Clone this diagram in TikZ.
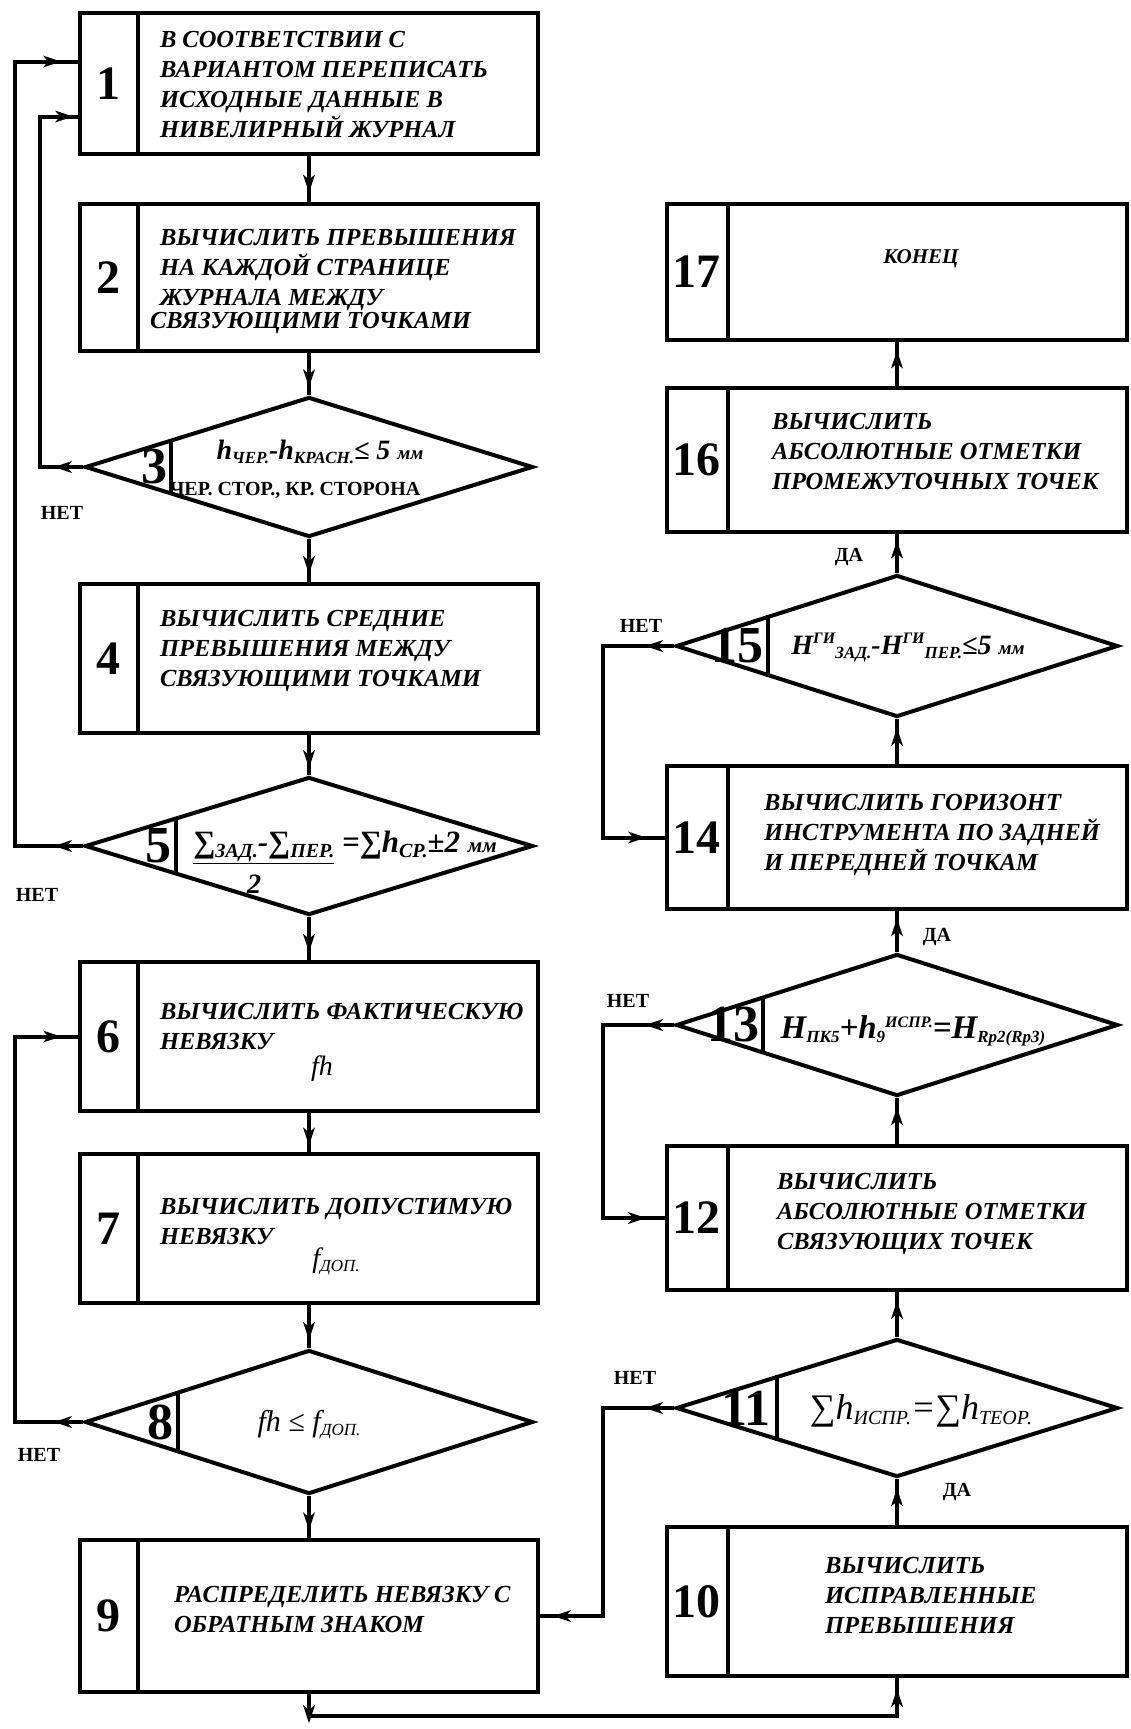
\documentclass[tikz,border=0pt]{standalone}
\usepackage{fontspec}
\setmainfont{Liberation Serif}
\usetikzlibrary{shapes.geometric,arrows.meta,decorations.markings,calc}
\newcommand\lsub[1]{\raisebox{-4pt}{\fontsize{17}{17}\selectfont #1}}
\newcommand\lsubb[1]{\raisebox{-5pt}{\fontsize{20}{20}\selectfont #1}}
\newcommand\hsup[1]{\raisebox{11pt}{\fontsize{16}{16}\selectfont #1}}
\newcommand\blobtip{\fill (9pt,0pt) -- (-9pt,6pt) -- (-4pt,0pt) -- (-9pt,-6pt) -- cycle;}
\begin{document}
\begin{tikzpicture}[x=1pt,y=-1pt,line width=4pt,
  lblk/.style={draw,inner sep=0pt,minimum width=458pt},
  rblk/.style={draw,inner sep=0pt,minimum width=460pt},
  dia/.style={draw,shape=diamond,inner sep=0pt},
  txt/.style={anchor=west,align=left,inner sep=0pt,font=\fontsize{24.5}{30}\selectfont\bfseries\itshape},
  num/.style={inner sep=0pt,font=\fontsize{48}{48}\selectfont\bfseries},
  dnum/.style={inner sep=0pt,anchor=east,font=\fontsize{52}{52}\selectfont\bfseries},
  lbl/.style={inner sep=0pt,font=\fontsize{20}{20}\selectfont\bfseries},
  frm/.style={inner sep=0pt,font=\fontsize{28}{28}\selectfont\bfseries\itshape},
  frmr/.style={inner sep=0pt,font=\fontsize{28}{28}\selectfont\itshape},
  midarrow/.style={postaction={decorate},decoration={markings,mark=at position #1 with {\blobtip}}},
  loopmarks/.style 2 args={postaction={decorate},decoration={markings,
     mark=at position #1 with {\blobtip},
     mark=at position #2 with {\blobtip}}}]
\fill[white] (0,0) rectangle (1131,1729);
\useasboundingbox (0,0) rectangle (1131,1729);

% left column
\node[lblk,minimum height=141pt] (b1) at (309,83.5) {};
\node[lblk,minimum height=147pt] (b2) at (309,277.5) {};
\node[dia,minimum width=448pt,minimum height=140pt] (d3) at (309,467) {};
\node[lblk,minimum height=149pt] (b4) at (309,658.5) {};
\node[dia,minimum width=448pt,minimum height=138pt] (d5) at (309,846) {};
\node[lblk,minimum height=149pt] (b6) at (309,1036.5) {};
\node[lblk,minimum height=149pt] (b7) at (309,1228.5) {};
\node[dia,minimum width=448pt,minimum height=144pt] (d8) at (309,1422) {};
\node[lblk,minimum height=152pt] (b9) at (309,1616) {};

% right column
\node[rblk,minimum height=136pt] (b17) at (897,272) {};
\node[rblk,minimum height=144pt] (b16) at (897,460) {};
\node[dia,minimum width=442pt,minimum height=142pt] (d15) at (897,646) {};
\node[rblk,minimum height=143pt] (b14) at (897,837.5) {};
\node[dia,minimum width=442pt,minimum height=142pt] (d13) at (897,1025) {};
\node[rblk,minimum height=144pt] (b12) at (897,1218) {};
\node[dia,minimum width=442pt,minimum height=138pt] (d11) at (897,1408) {};
\node[rblk,minimum height=149pt] (b10) at (897,1601.5) {};

% dividers in boxes
\foreach \b in {b1,b2,b4,b6,b7,b9}
  \draw ([xshift=60pt]\b.north west) -- ([xshift=60pt]\b.south west);
\foreach \b in {b10,b12,b14,b16,b17}
  \draw ([xshift=63pt]\b.north west) -- ([xshift=63pt]\b.south west);

% dividers in diamonds
\draw ($(d3.west)!0.39!(d3.north)$) -- ($(d3.west)!0.39!(d3.south)$);
\draw ($(d5.west)!0.41!(d5.north)$) -- ($(d5.west)!0.41!(d5.south)$);
\draw ($(d8.west)!0.42!(d8.north)$) -- ($(d8.west)!0.42!(d8.south)$);
\draw ($(d15.west)!0.42!(d15.north)$) -- ($(d15.west)!0.42!(d15.south)$);
\draw ($(d13.west)!0.40!(d13.north)$) -- ($(d13.west)!0.40!(d13.south)$);
\draw ($(d11.west)!0.46!(d11.north)$) -- ($(d11.west)!0.46!(d11.south)$);

% numbers
\node[num] (n1) at ($(b1.west)+(30,0)$) {1};
\node[num] (n2) at ($(b2.west)+(30,0)$) {2};
\node[num] (n4) at ($(b4.west)+(30,0)$) {4};
\node[num] (n6) at ($(b6.west)+(30,0)$) {6};
\node[num] (n7) at ($(b7.west)+(30,0)$) {7};
\node[num] (n9) at ($(b9.west)+(30,0)$) {9};
\node[num] (n10) at ($(b10.west)+(31,0)$) {10};
\node[num] (n12) at ($(b12.west)+(31,0)$) {12};
\node[num] (n14) at ($(b14.west)+(31,0)$) {14};
\node[num] (n16) at ($(b16.west)+(31,0)$) {16};
\node[num] (n17) at ($(b17.west)+(31,0)$) {17};
\node[dnum] (n3) at ($(d3.west)!0.195!(d3.east)+(-2,0)$) {3};
\node[dnum] (n5) at ($(d5.west)!0.205!(d5.east)+(-2,0)$) {5};
\node[dnum] (n8) at ($(d8.west)!0.21!(d8.east)+(-2,0)$) {8};
\node[dnum] (n15) at ($(d15.west)!0.21!(d15.east)+(-2,0)$) {15};
\node[dnum] (n13) at ($(d13.west)!0.20!(d13.east)+(-2,0)$) {13};
\node[dnum] (n11) at ($(d11.west)!0.23!(d11.east)+(-4,0)$) {11};

% box texts
\node[txt] (t1) at ($(b1.west)+(80,1.5)$) {В СООТВЕТСТВИИ С\\ВАРИАНТОМ ПЕРЕПИСАТЬ\\ИСХОДНЫЕ ДАННЫЕ В\\НИВЕЛИРНЫЙ ЖУРНАЛ};
\node[txt] (t2) at ($(b2.west)+(80,4)$) {ВЫЧИСЛИТЬ ПРЕВЫШЕНИЯ\\НА КАЖДОЙ СТРАНИЦЕ\\ЖУРНАЛА МЕЖДУ\\[-7pt]\hspace*{-10pt}СВЯЗУЮЩИМИ ТОЧКАМИ};
\node[txt] (t4) at ($(b4.west)+(80,-8)$) {ВЫЧИСЛИТЬ СРЕДНИЕ\\ПРЕВЫШЕНИЯ МЕЖДУ\\СВЯЗУЮЩИМИ ТОЧКАМИ};
\node[txt] (t6) at ($(b6.west)+(80,-10)$) {ВЫЧИСЛИТЬ ФАКТИЧЕСКУЮ\\НЕВЯЗКУ};
\node[frmr] (f6) at ($(b6.center)+(13,32)$) {fh};
\node[txt] (t7) at ($(b7.west)+(80,-7)$) {ВЫЧИСЛИТЬ ДОПУСТИМУЮ\\НЕВЯЗКУ};
\node[frmr] (f7) at ($(b7.center)+(27,33)$) {f\lsub{ДОП.}};
\node[txt] (t9) at ($(b9.west)+(94,-7)$) {РАСПРЕДЕЛИТЬ НЕВЯЗКУ С\\ОБРАТНЫМ ЗНАКОМ};
\node[txt] (t10) at ($(b10.west)+(158,-6)$) {ВЫЧИСЛИТЬ\\ИСПРАВЛЕННЫЕ\\ПРЕВЫШЕНИЯ};
\node[txt] (t12) at ($(b12.west)+(110,-4)$) {ВЫЧИСЛИТЬ\\АБСОЛЮТНЫЕ ОТМЕТКИ\\СВЯЗУЮЩИХ ТОЧЕК};
\node[txt] (t14) at ($(b14.west)+(97,-3)$) {ВЫЧИСЛИТЬ ГОРИЗОНТ\\ИНСТРУМЕНТА ПО ЗАДНЕЙ\\И ПЕРЕДНЕЙ ТОЧКАМ};
\node[txt] (t16) at ($(b16.west)+(105,-8)$) {ВЫЧИСЛИТЬ\\АБСОЛЮТНЫЕ ОТМЕТКИ\\ПРОМЕЖУТОЧНЫХ ТОЧЕК};
\node[txt,anchor=center,font=\fontsize{21}{21}\selectfont\bfseries\itshape] (t17) at ($(b17.center)+(24,-13)$) {КОНЕЦ};

% diamond texts
\node[frm] (f3a) at ($(d3.center)+(11,-15)$) {h\lsub{ЧЕР.}-h\lsub{КРАСН.}≤ 5 {\fontsize{19}{19}\selectfont мм}};
\node[lbl,font=\fontsize{20}{20}\selectfont\bfseries] (f3b) at ($(d3.center)+(-14,23)$) {ЧЕР. СТОР., КР. СТОРОНА};
\node[frm,font=\fontsize{31}{31}\selectfont\bfseries\itshape] (f5a) at ($(d5.center)+(36,1)$) {\underline{∑\lsubb{ЗАД.}-∑\lsubb{ПЕР.}} =∑h\lsubb{СР.}±2 {\fontsize{21}{21}\selectfont мм}};
\node[frm] (f5b) at ($(d5.center)+(-55,38)$) {2};
\node[frmr,font=\fontsize{30}{30}\selectfont\itshape] (f8) at ($(d8.center)+(0,3)$) {fh ≤ f\lsub{ДОП.}};
\node[frm] (f15) at ($(d15.center)+(11,2)$) {H\hsup{ГИ}\lsub{ЗАД.}-H\hsup{ГИ}\lsub{ПЕР.}≤5 {\fontsize{19}{19}\selectfont мм}};
\node[frm,font=\fontsize{33}{33}\selectfont\bfseries\itshape] (f13) at ($(d13.center)+(16,6)$) {H\lsub{ПК5}+h\lsub{9}\hsup{ИСПР.}=H\lsub{Rp2(Rp3)}};
\node[frmr,font=\fontsize{36}{36}\selectfont\itshape] (f11) at ($(d11.center)+(24,3)$) {∑h\lsubb{ИСПР.}=∑h\lsubb{ТЕОР.}};

% straight connectors
\draw[midarrow=0.6] (b1.south) -- (b2.north);
\draw[midarrow=0.6] (b2.south) -- (d3.north);
\draw[midarrow=0.6] (d3.south) -- (b4.north);
\draw[midarrow=0.6] (b4.south) -- (d5.north);
\draw[midarrow=0.6] (d5.south) -- (b6.north);
\draw[midarrow=0.6] (b6.south) -- (b7.north);
\draw[midarrow=0.6] (b7.south) -- (d8.north);
\draw[midarrow=0.6] (d8.south) -- (b9.north);
\draw[midarrow=0.6] (b10.north) -- (d11.south);
\draw[midarrow=0.6] (d11.north) -- (b12.south);
\draw[midarrow=0.6] (b12.north) -- (d13.south);
\draw[midarrow=0.6] (d13.north) -- (b14.south);
\draw[midarrow=0.6] (b14.north) -- (d15.south);
\draw[midarrow=0.6] (d15.north) -- (b16.south);
\draw[midarrow=0.6] (b16.north) -- (b17.south);

% loops
\draw[loopmarks={20pt}{-14pt}] (d3.west) -- ++(-43,0) |- ([yshift=-33pt]b1.west);
\draw[loopmarks={20pt}{-26pt}] (d5.west) -- ++(-68,0) |- ([yshift=22pt]b1.west);
\draw[loopmarks={20pt}{-26pt}] (d8.west) -- ++(-68,0) |- (b6.west);
\draw[loopmarks={20pt}{-22pt}] (d11.west) -- ++(-71,0) |- (b9.east);
\draw[loopmarks={20pt}{-28pt}] (d13.west) -- ++(-71,0) |- (b12.west);
\draw[loopmarks={20pt}{-28pt}] (d15.west) -- ++(-71,0) |- (b14.west);
\draw[loopmarks={20pt}{-20pt}] (b9.south) -- ++(0,22) -| (b10.south);

% labels
\node[lbl] (l3) at ($(d3.west)+(-21,46)$) {НЕТ};
\node[lbl] (l5) at ($(d5.west)+(-46,49)$) {НЕТ};
\node[lbl] (l8) at ($(d8.west)+(-44,33)$) {НЕТ};
\node[lbl] (l11) at ($(d11.west)+(-39,-30)$) {НЕТ};
\node[lbl] (l13) at ($(d13.west)+(-46,-24)$) {НЕТ};
\node[lbl] (l15) at ($(d15.west)+(-33,-20)$) {НЕТ};
\node[lbl] (y15) at ($(d15.north)+(-48,-16)$) {ДА};
\node[lbl] (y13) at ($(d13.north)+(40,-15)$) {ДА};
\node[lbl] (y11) at ($(d11.south)+(60,13)$) {ДА};
\end{tikzpicture}
\end{document}
